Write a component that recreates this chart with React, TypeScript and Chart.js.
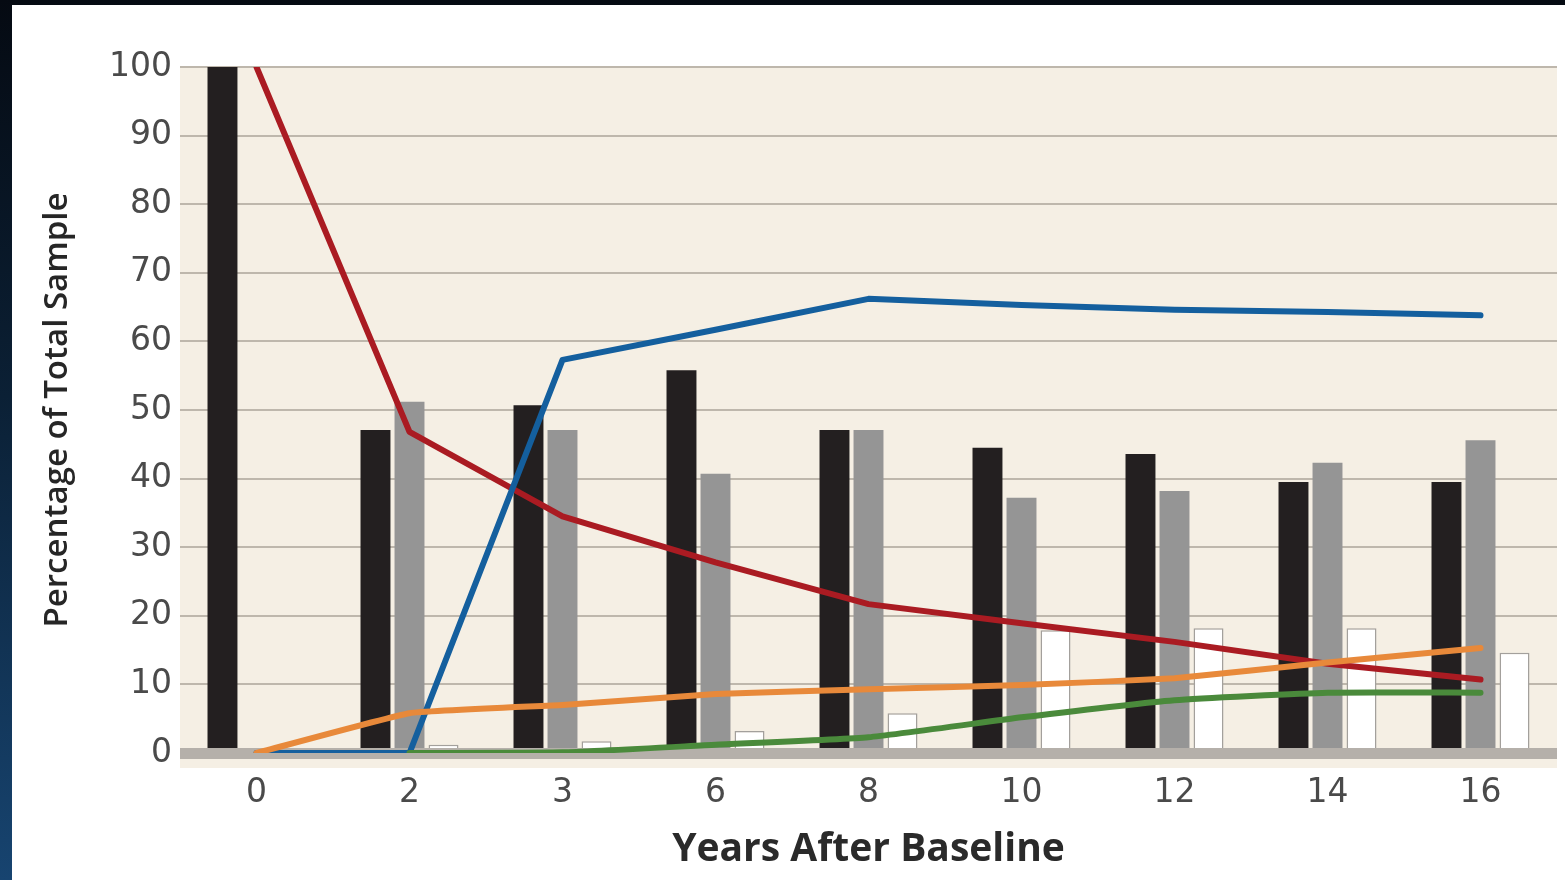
import React, { useEffect, useRef } from "react";
import { Chart, registerables } from "chart.js";

Chart.register(...registerables);

const categories = ["0", "2", "3", "6", "8", "10", "12", "14", "16"];
const blackBars = [100, 47.1, 50.7, 55.8, 47.1, 44.5, 43.6, 39.5, 39.5];
const grayBars = [null, 51.2, 47.1, 40.7, 47.1, 37.2, 38.2, 42.3, 45.6];
const whiteBars = [null, 1.2, 1.7, 3.2, 5.8, 17.9, 18.2, 18.2, 14.6];
const redLine = [100, 46.8, 34.5, 27.8, 21.7, 18.9, 16.2, 13.0, 10.7];
const blueLine = [0, 0, 57.3, 61.7, 66.2, 65.3, 64.6, 64.3, 63.8];
const orangeLine = [0, 5.8, 7.0, 8.6, 9.3, 9.9, 10.9, 13.2, 15.3];
const greenLine = [null, 0, 0.1, 1.2, 2.3, 5.2, 7.7, 8.8, 8.8];
const yTickValues = [0, 10, 20, 30, 40, 50, 60, 70, 80, 90, 100];
const yTitle = "Percentage of Total Sample";
const xTitle = "Years After Baseline";

const W = 1565;
const H = 880;

const bgPlugin = {
  id: "bgPlugin",
  beforeDraw(chart: any) {
    const { ctx, chartArea } = chart;
    ctx.save();
    ctx.fillStyle = "#f5efe4";
    ctx.fillRect(
      chartArea.left,
      chartArea.top,
      chartArea.right - chartArea.left,
      chartArea.bottom + 15 - chartArea.top
    );
    ctx.restore();
  },
  beforeDatasetsDraw(chart: any) {
    chart.$bandDrawn = false;
  },
  beforeDatasetDraw(chart: any, args: any) {
    if (!chart.$bandDrawn && args.meta.type === "line") {
      const { ctx, chartArea } = chart;
      const y0 = chart.scales.y.getPixelForValue(0);
      ctx.save();
      ctx.fillStyle = "#b5b0aa";
      ctx.fillRect(chartArea.left, y0 - 5, chartArea.right - chartArea.left, 11);
      ctx.restore();
      chart.$bandDrawn = true;
    }
  },
};

export default function App() {
  const ref = useRef<HTMLCanvasElement | null>(null);

  useEffect(() => {
    if (!ref.current) return;
    const barCommon = {
      type: "bar" as const,
      categoryPercentage: 0.667,
      barPercentage: 0.88,
      order: 10,
      borderSkipped: false,
    };
    const lineCommon = {
      type: "line" as const,
      pointRadius: 0,
      borderWidth: 6,
      fill: false,
      order: 1,
      borderCapStyle: "round" as const,
      borderJoinStyle: "round" as const,
    };
    const chart = new Chart(ref.current, {
      data: {
        labels: categories,
        datasets: [
          { ...barCommon, label: "Black", data: blackBars, backgroundColor: "#231f20", borderWidth: 0 },
          { ...barCommon, label: "Gray", data: grayBars, backgroundColor: "#959595", borderWidth: 0 },
          {
            ...barCommon,
            label: "White",
            data: whiteBars,
            backgroundColor: "#ffffff",
            borderColor: "#a3a09c",
            borderWidth: 1.5,
          },
          { ...lineCommon, label: "Orange", data: orangeLine, borderColor: "#e8893a", tension: 0.1 },
          { ...lineCommon, label: "Green", data: greenLine, borderColor: "#4a8a3b", tension: 0.15 },
          { ...lineCommon, label: "Blue", data: blueLine, borderColor: "#145f9e", tension: 0 },
          { ...lineCommon, label: "Red", data: redLine, borderColor: "#aa1b22", tension: 0 },
        ] as any,
      },
      plugins: [bgPlugin],
      options: {
        animation: false,
        responsive: false,
        devicePixelRatio: 1,
        layout: { padding: { left: 0, top: 67, right: 8, bottom: 0 } },
        plugins: {
          legend: { display: false },
          tooltip: { enabled: false },
        },
        scales: {
          x: {
            type: "category",
            offset: true,
            grid: { display: false, drawTicks: false },
            border: { display: false },
            ticks: {
              color: "#4a4a4a",
              padding: 21,
              font: { family: "DejaVu Sans", size: 33 },
              maxRotation: 0,
            },
            title: {
              display: true,
              text: xTitle,
              color: "#2a2a2a",
              font: { family: "Open Sans", size: 39, weight: "bold" },
              padding: { top: 0, bottom: 7 },
            },
            afterFit(scale: any) {
              scale.height = 127;
            },
          },
          y: {
            type: "linear",
            min: 0,
            max: 100,
            afterBuildTicks(scale: any) {
              scale.ticks = yTickValues.map((v) => ({ value: v }));
            },
            grid: {
              drawTicks: false,
              color: (c: any) => (c.tick && c.tick.value === 0 ? "rgba(0,0,0,0)" : "#beb7ac"),
              lineWidth: 2,
            },
            border: { display: false },
            ticks: {
              color: "#4a4a4a",
              padding: 8,
              font: { family: "DejaVu Sans", size: 33 },
            },
            title: {
              display: true,
              text: yTitle,
              color: "#262626",
              font: { family: "Open Sans", size: 33, weight: "600" },
              padding: { top: 38, bottom: 0 },
            },
            afterFit(scale: any) {
              scale.width = 180;
            },
          },
        },
      } as any,
    });
    return () => chart.destroy();
  }, []);

  return (
    <div
      style={{
        position: "fixed",
        left: 0,
        top: 0,
        width: W,
        height: H,
        overflow: "hidden",
        background: "linear-gradient(180deg, #050a12 0%, #0b2035 45%, #174470 100%)",
      }}
    >
      <div
        style={{
          position: "absolute",
          left: 12,
          top: 5,
          right: 0,
          bottom: 0,
          background: "#ffffff",
        }}
      />
      <canvas
        ref={ref}
        width={W}
        height={H}
        style={{ position: "absolute", left: 0, top: 0, width: W, height: H }}
      />
    </div>
  );
}
